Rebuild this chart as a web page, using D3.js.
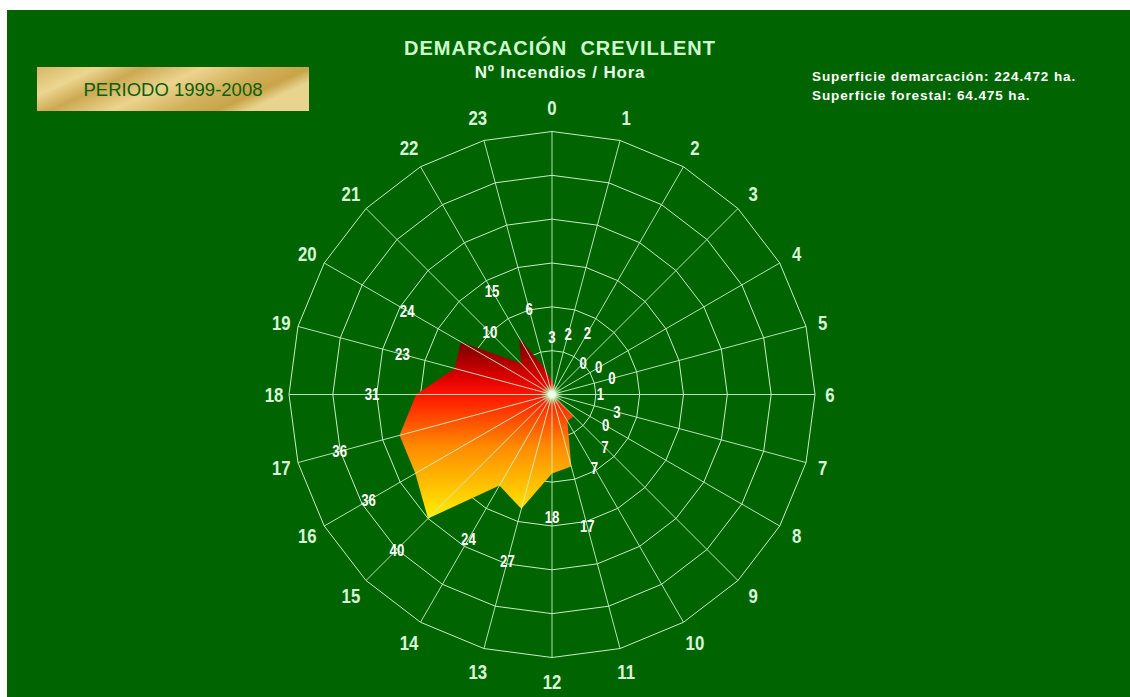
<!DOCTYPE html>
<html>
<head>
<meta charset="utf-8">
<script src="https://cdn.jsdelivr.net/npm/d3@7"></script>
<style>
  body { margin: 0; background: #fff; }
  svg { display: block; }
  .narrow { font-family: 'Liberation Sans', Arial, sans-serif; font-weight: bold; }
</style>
</head>
<body>
<script>
const hours = d3.range(24).map(String)
const fires = [3, 2, 2, 0, 0, 0, 1, 3, 0, 7, 7, 17, 18, 27, 24, 40, 36, 36, 31, 23, 24, 10, 15, 6]
const rings = [10, 20, 30, 40, 50, 60]
const title = 'DEMARCACIÓN  CREVILLENT'
const subtitle = 'Nº Incendios / Hora'
const period = 'PERIODO 1999-2008'
const notes = ['Superficie demarcación: 224.472 ha.', 'Superficie forestal: 64.475 ha.']

const width = 1130
const height = 697
const cx = 552
const cy = 394.5
const radius = 263

const svg = d3.select('body').append('svg')
  .attr('width', width)
  .attr('height', height)

const defs = svg.append('defs')

const fillGrad = defs.append('linearGradient')
  .attr('id', 'fillGrad')
  .attr('x1', 0).attr('y1', 0).attr('x2', 0).attr('y2', 1)
fillGrad.selectAll('stop')
  .data([[0, '#6a0000'], [0.22, '#dd0000'], [0.32, '#ff1500'], [0.6, '#ff8a00'], [1, '#fff000']])
  .join('stop')
    .attr('offset', d => d[0])
    .attr('stop-color', d => d[1])

const goldGrad = defs.append('linearGradient')
  .attr('id', 'goldGrad')
  .attr('x1', 0).attr('y1', 0).attr('x2', 1).attr('y2', 0.35)
goldGrad.selectAll('stop')
  .data([[0, '#d6b866'], [0.2, '#ecd690'], [0.35, '#cca852'], [0.55, '#ecd48e'], [0.75, '#d2b25c'], [0.9, '#c9a448'], [1, '#e8d48e']])
  .join('stop')
    .attr('offset', d => d[0])
    .attr('stop-color', d => d[1])

const glow = defs.append('radialGradient').attr('id', 'glow')
glow.selectAll('stop')
  .data([[0, '#ffffff', 1], [0.3, '#e6ffe0', 0.95], [0.6, '#aef0a0', 0.5], [1, '#90e090', 0]])
  .join('stop')
    .attr('offset', d => d[0])
    .attr('stop-color', d => d[1])
    .attr('stop-opacity', d => d[2])

// background
svg.append('rect')
  .attr('x', 7).attr('y', 10)
  .attr('width', width - 7).attr('height', height - 10)
  .attr('fill', '#006400')

// header
svg.append('text')
  .attr('x', 560).attr('y', 55)
  .attr('text-anchor', 'middle')
  .style('font', 'bold 20px "Liberation Sans", Arial, sans-serif')
  .style('letter-spacing', '1px')
  .style('white-space', 'pre')
  .attr('fill', '#ccffcc')
  .text(title)

svg.append('text')
  .attr('x', 560).attr('y', 78)
  .attr('text-anchor', 'middle')
  .style('font', 'bold 17px "Liberation Sans", Arial, sans-serif')
  .style('letter-spacing', '0.8px')
  .attr('fill', '#e6ffe6')
  .text(subtitle)

svg.append('rect')
  .attr('x', 37).attr('y', 67)
  .attr('width', 272).attr('height', 44)
  .attr('fill', 'url(#goldGrad)')

svg.append('text')
  .attr('x', 173).attr('y', 95.5)
  .attr('text-anchor', 'middle')
  .style('font', '18.5px "Liberation Sans", Arial, sans-serif')
  .attr('fill', '#0a5f0a')
  .text(period)

svg.selectAll('.note')
  .data(notes)
  .join('text')
    .attr('class', 'note')
    .attr('x', 812)
    .attr('y', (d, i) => 81 + i * 19)
    .style('font', 'bold 13.5px "Liberation Sans", Arial, sans-serif')
    .style('letter-spacing', '0.9px')
    .attr('fill', '#ffffff')
    .text(d => d)

// scales
const angle = d3.scalePoint()
  .domain(hours)
  .range([0, 2 * Math.PI * 23 / 24])

const r = d3.scaleLinear()
  .domain([0, d3.max(rings)])
  .range([0, radius])

const g = svg.append('g')
  .attr('transform', `translate(${cx}, ${cy})`)

const ringLine = d3.lineRadial()
  .angle(d => angle(d))
  .curve(d3.curveLinearClosed)

// rings
g.selectAll('.ring')
  .data(rings)
  .join('path')
    .attr('class', 'ring')
    .attr('d', v => ringLine.radius(r(v))(hours))
    .attr('fill', 'none')
    .attr('stroke', '#c6efc6')
    .attr('stroke-width', 1)

// filled area
const area = d3.lineRadial()
  .angle((d, i) => angle(hours[i]))
  .radius(d => r(d))
  .curve(d3.curveLinearClosed)

g.append('path')
  .attr('d', area(fires))
  .attr('fill', 'url(#fillGrad)')

// spokes
const point = (h, v) => {
  const a = angle(h) - Math.PI / 2
  return [Math.cos(a) * v, Math.sin(a) * v]
}

g.selectAll('.spoke')
  .data(hours)
  .join('line')
    .attr('class', 'spoke')
    .attr('x1', 0).attr('y1', 0)
    .attr('x2', h => point(h, radius)[0])
    .attr('y2', h => point(h, radius)[1])
    .attr('stroke', '#c6efc6')
    .attr('stroke-opacity', 0.9)
    .attr('stroke-width', 1)

g.append('circle')
  .attr('r', 11)
  .attr('fill', 'url(#glow)')

// hour labels, condensed by a horizontal squeeze
const hourPos = h => point(h, radius + 15 + 9 * Math.abs(Math.cos(angle(h))))

g.selectAll('.hour')
  .data(hours)
  .join('text')
    .attr('class', 'hour narrow')
    .attr('transform', h => `translate(${hourPos(h)[0]}, ${hourPos(h)[1]}) scale(0.8, 1)`)
    .attr('text-anchor', 'middle')
    .attr('dy', '0.36em')
    .style('font-size', '21px')
    .attr('fill', '#d6f6d6')
    .text(h => h)

// value labels, staggered in three steps so neighbours near the centre do not collide
const stagger = [44, 54, 62]
const valPos = (d, i) => point(hours[i], r(d) + stagger[i % 3])

g.selectAll('.val')
  .data(fires)
  .join('text')
    .attr('class', 'val narrow')
    .attr('transform', (d, i) => `translate(${valPos(d, i)[0]}, ${valPos(d, i)[1]}) scale(0.8, 1)`)
    .attr('text-anchor', 'middle')
    .attr('dy', '0.36em')
    .style('font-size', '16.5px')
    .attr('fill', '#ffffff')
    .text(d => d)
</script>
</body>
</html>
